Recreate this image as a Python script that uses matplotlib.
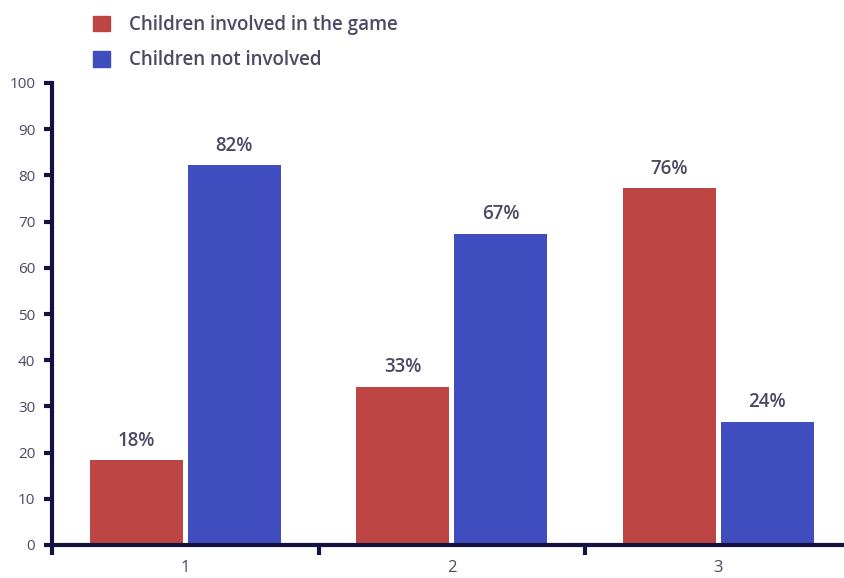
import numpy as np
import matplotlib
matplotlib.use("Agg")
import matplotlib.pyplot as plt
from matplotlib.patches import Patch

# --------------------------
# Data
# --------------------------
groups = ["1", "2", "3"]
series_names = ["Children involved in the game", "Children not involved"]
involved = [18.3, 34.3, 77.2]        # bar heights as drawn
not_involved = [82.2, 67.3, 26.7]
involved_labels = ["18%", "33%", "76%"]
not_involved_labels = ["82%", "67%", "24%"]
yticks = [0, 10, 20, 30, 40, 50, 60, 70, 80, 90, 100]

red = "#bd4543"
blue = "#404dbe"
navy = "#16123f"
text_col = "#4a4a64"

plt.rcParams["font.family"] = ["Open Sans", "DejaVu Sans"]

fig = plt.figure(figsize=(8.44, 5.78), dpi=100)
ax = fig.add_axes([52 / 844, 1 - 545 / 578, 1 - 52 / 844, (545 - 83) / 578])

x = np.arange(1, len(groups) + 1)
w = 0.35
off = 0.184
b1 = ax.bar(x - off, involved, w, color=red, label=series_names[0])
b2 = ax.bar(x + off, not_involved, w, color=blue, label=series_names[1])

for bars, labs in [(b1, involved_labels), (b2, not_involved_labels)]:
    for rect, lab in zip(bars, labs):
        ax.annotate(lab, (rect.get_x() + rect.get_width() / 2, rect.get_height()),
                    xytext=(0, 7), textcoords="offset points", ha="center", va="bottom",
                    fontsize=13.5, fontweight="semibold", color=text_col)

ax.set_xlim(0.5, 0.5 + 792 / 266.5)
ax.set_ylim(0, 100)
ax.set_yticks(yticks)
ax.set_yticklabels([str(t) for t in yticks], fontsize=11, color=text_col)

# category boundaries as major ticks, labels in the middle
ax.set_xticks([0.5, 1.5, 2.5])
ax.set_xticklabels([])
ax.set_xticks(x, minor=True)
ax.set_xticklabels(groups, minor=True, fontsize=12, color=text_col)
ax.tick_params(axis="x", which="major", direction="out", length=7, width=3, color=navy)
ax.tick_params(axis="x", which="minor", length=0, pad=11)
ax.tick_params(axis="y", direction="out", length=6, width=3, color=navy, pad=6)

for s in ["top", "right"]:
    ax.spines[s].set_visible(False)
for s in ["left", "bottom"]:
    ax.spines[s].set_linewidth(3)
    ax.spines[s].set_color(navy)

handles = [Patch(color=red), Patch(color=blue)]
fig.legend(handles, series_names, loc="upper left", bbox_to_anchor=(76 / 844, 1 + 2 / 578),
           frameon=False, handlelength=0.9, handleheight=0.9,
           handletextpad=1.05, labelspacing=0.82, labelcolor=text_col,
           prop={"weight": "semibold", "size": 13.5})

fig.savefig("out.png", dpi=100)
